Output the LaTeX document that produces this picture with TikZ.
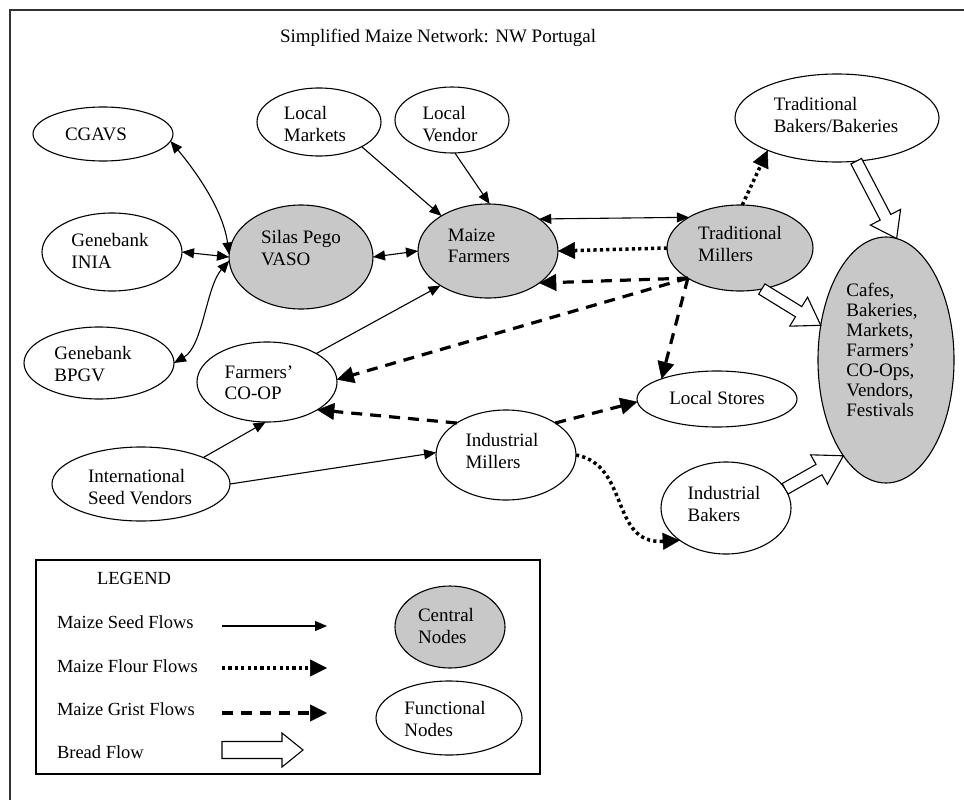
\documentclass[tikz,border=0pt]{standalone}
\usepackage{fontspec}
\setmainfont{Liberation Serif}
\usetikzlibrary{arrows.meta,shapes.geometric,calc}

\definecolor{hubgray}{RGB}{200,200,200}
\definecolor{framegray}{RGB}{50,50,50}

% hollow block arrow: #1 start, #2 tip, #3 shaft half width, #4 head half width, #5 head length
\newcommand\breadarrow[5]{%
  \coordinate (bh) at ($(#2)!#5!(#1)$);
  \draw[bread] ($(#1)!#3!90:(#2)$) -- ($(bh)!#3!90:(#2)$) -- ($(bh)!#4!90:(#2)$) -- (#2)
    -- ($(bh)!#4!-90:(#2)$) -- ($(bh)!#3!-90:(#2)$) -- ($(#1)!#3!-90:(#2)$) -- cycle;
}

\begin{document}
\begin{tikzpicture}[x=1pt,y=-1pt,
  every node/.style={inner sep=0pt, outer sep=0pt},
  fn/.style={ellipse, draw=black, line width=1.1pt, fill=white},
  cn/.style={fn, fill=hubgray},
  lbl/.style={font=\fontsize{19}{21.5}\selectfont, align=left},
  ltxt/.style={font=\fontsize{18.5}{21}\selectfont, anchor=base west},
  seed/.style={line width=1.1pt, -{Triangle[length=12pt,width=10pt]}},
  seedboth/.style={line width=1.1pt, {Triangle[length=12pt,width=10pt]}-{Triangle[length=12pt,width=10pt]}},
  flour/.style={line width=3.5pt, dash pattern=on 3.2pt off 3.2pt, -{Triangle[length=17pt,width=17pt,line width=0.5pt]}},
  grist/.style={line width=3.2pt, dash pattern=on 11pt off 8pt, -{Triangle[length=17pt,width=17pt,line width=0.5pt]}},
  bread/.style={draw=black, line width=1.1pt, fill=white, line join=miter},
]
\useasboundingbox (0,0) rectangle (964,800);
\fill[white] (0,0) rectangle (964,800);

% outer frame (top and left edges)
\draw[framegray, line width=2pt] (10,800) -- (10,10) -- (964,10);

% title
\node[anchor=base west, font=\fontsize{19}{21}\selectfont] (title) at (280,43) {Simplified Maize Network: NW Portugal};

% ---------- nodes ----------
\node[fn, minimum width=140pt, minimum height=54pt] (cgavs) at (103,134) {};
\node[lbl] (cgavs-t) at (96,134) {CGAVS};

\node[fn, minimum width=140pt, minimum height=78pt] (inia) at (112,252) {};
\node[lbl] (inia-t) at (110,251) {Genebank\\INIA};

\node[fn, minimum width=150pt, minimum height=72pt] (bpgv) at (99,363) {};
\node[lbl] (bpgv-t) at (93,364) {Genebank\\BPGV};

\node[cn, minimum width=144pt, minimum height=104pt] (silas) at (301,257) {};
\node[lbl] (silas-t) at (301,248) {Silas Pego\\VASO};

\node[fn, minimum width=124pt, minimum height=68pt] (lmarkets) at (319,122) {};
\node[lbl] (lmarkets-t) at (315,124) {Local\\Markets};

\node[fn, minimum width=114pt, minimum height=66pt] (lvendor) at (452,120) {};
\node[lbl] (lvendor-t) at (450,124) {Local\\Vendor};

\node[cn, minimum width=140pt, minimum height=94pt] (mfarmers) at (488,251) {};
\node[lbl] (mfarmers-t) at (479,246) {Maize\\Farmers};

\node[cn, minimum width=146pt, minimum height=86pt] (tmillers) at (740,248) {};
\node[lbl] (tmillers-t) at (740,244) {Traditional\\Millers};

\node[fn, minimum width=204pt, minimum height=88pt] (tbakers) at (837,118) {};
\node[lbl] (tbakers-t) at (836,115) {Traditional\\Bakers/Bakeries};

\node[cn, minimum width=136pt, minimum height=246pt] (cafes) at (886,360) {};
\node[lbl, font=\fontsize{19}{20}\selectfont] (cafes-t) at (882,350)
  {Cafes,\\Bakeries,\\Markets,\\Farmers’\\CO-Ops,\\Vendors,\\Festivals};

\node[fn, minimum width=160pt, minimum height=56pt] (lstores) at (717,399) {};
\node[lbl] (lstores-t) at (717,398) {Local Stores};

\node[fn, minimum width=140pt, minimum height=90pt] (imillers) at (506,455) {};
\node[lbl] (imillers-t) at (502,451) {Industrial\\Millers};

\node[fn, minimum width=130pt, minimum height=92pt] (ibakers) at (726,508) {};
\node[lbl] (ibakers-t) at (724,504) {Industrial\\Bakers};

\node[fn, minimum width=140pt, minimum height=80pt] (coop) at (267,382) {};
\node[lbl] (coop-t) at (259,383) {Farmers’\\CO-OP};

\node[fn, minimum width=178pt, minimum height=74pt] (isv) at (141,484) {};
\node[lbl] (isv-t) at (140,487) {International\\Seed Vendors};

% ---------- seed flows ----------
\draw[seedboth] (silas.178) .. controls +(-6,-45) and +(25,30) .. (cgavs.-6);
\draw[seedboth] (silas.180) -- (inia.east);
\draw[seedboth] (silas.183) .. controls +(-23,26) and +(29,-17) .. (bpgv.0);
\draw[seedboth] (silas.east) -- (mfarmers.west);
\draw[seed] (lmarkets.-30) -- (mfarmers.143);
\draw[seed] (lvendor.-85) -- (mfarmers.88);
\draw[seed] (coop.30) -- (mfarmers.-144);
\draw[seedboth] (mfarmers.32) -- (tmillers.149);
\draw[seed] (isv.23) -- (coop.-92);
\draw[seed] (isv.east) -- (imillers.178);

% ---------- flour flows ----------
\draw[flour] (tmillers.west) -- (mfarmers.east);
\draw[flour] (tmillers.87) -- (tbakers.-155);
\draw[flour] (imillers.east) .. controls +(54,10) and +(-70,4) .. (ibakers.-145);

% ---------- grist flows ----------
\draw[grist] (tmillers.-150) -- (mfarmers.-32);
\draw[grist] (tmillers.-150) -- (coop.2);
\draw[grist] (tmillers.-150) -- (lstores.160);
\draw[grist] (imillers.147) -- (coop.-29);
\draw[grist] (imillers.33) -- (lstores.182);

% ---------- bread flows ----------
\breadarrow{tbakers.-66}{cafes.85}{6pt}{17pt}{24pt}
\breadarrow{tmillers.-62}{cafes.152}{6pt}{17pt}{26pt}
\breadarrow{ibakers.18}{cafes.-114}{6pt}{17pt}{28pt}

% ---------- legend ----------
\draw[black, line width=1.2pt] (36,560) rectangle (540,774);
\node[ltxt] (lg-title) at (97,584) {LEGEND};
\node[ltxt] (lg-seed) at (57,628) {Maize Seed Flows};
\node[ltxt] (lg-flour) at (57,672) {Maize Flour Flows};
\node[ltxt] (lg-grist) at (57,715) {Maize Grist Flows};
\node[ltxt] (lg-bread) at (57,758) {Bread Flow};

\coordinate (lgsa) at (222,626); \coordinate (lgsb) at (327,626);
\coordinate (lgfa) at (222,668); \coordinate (lgfb) at (327,668);
\coordinate (lgga) at (222,713); \coordinate (lggb) at (327,713);
\coordinate (lgba) at (222,750); \coordinate (lgbb) at (303,750);
\draw[seed] (lgsa) -- (lgsb);
\draw[flour] (lgfa) -- (lgfb);
\draw[grist] (lgga) -- (lggb);
\breadarrow{lgba}{lgbb}{8.5pt}{17pt}{21pt}

\node[cn, minimum width=110pt, minimum height=82pt] (lg-central) at (450,627) {};
\node[lbl] (lg-central-t) at (446,626) {Central\\Nodes};
\node[fn, minimum width=146pt, minimum height=74pt] (lg-func) at (449,718) {};
\node[lbl] (lg-func-t) at (445,719) {Functional\\Nodes};
\end{tikzpicture}
\end{document}
